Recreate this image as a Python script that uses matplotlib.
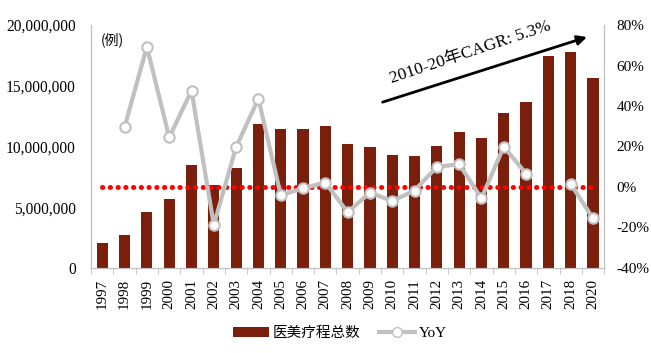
import matplotlib
matplotlib.use("Agg")
import matplotlib.pyplot as plt
import numpy as np
from matplotlib.lines import Line2D
from matplotlib.patches import Patch

years = ["1997", "1998", "1999", "2000", "2001", "2002", "2003", "2004", "2005", "2006",
         "2007", "2008", "2009", "2010", "2011", "2012", "2013", "2014", "2015", "2016",
         "2017", "2018", "2020"]
procedures = [2.08e6, 2.69e6, 4.58e6, 5.70e6, 8.48e6, 6.83e6, 8.20e6, 11.83e6, 11.40e6, 11.40e6,
              11.70e6, 10.23e6, 9.98e6, 9.30e6, 9.19e6, 10.07e6, 11.22e6, 10.67e6, 12.78e6, 13.64e6,
              17.45e6, 17.75e6, 15.60e6]
yoy = [np.nan, 29.6, 69.3, 24.5, 47.6, -18.8, 19.8, 43.6, -4.0, -0.7,
       2.2, -12.5, -2.8, -6.9, -1.8, 10.0, 11.2, -5.6, 19.9, 6.6,
       np.nan, 1.5, -15.5]
left_ticks = [0, 5e6, 10e6, 15e6, 20e6]
left_labels = ["0", "5,000,000", "10,000,000", "15,000,000", "20,000,000"]
right_ticks = [-40, -20, 0, 20, 40, 60, 80]
right_labels = ["-40%", "-20%", "0%", "20%", "40%", "60%", "80%"]

serif = ["Liberation Serif", "Noto Sans CJK SC"]
cjk = ["Noto Sans CJK SC", "DejaVu Sans"]

bar_color = "#7A1F0B"
line_color = "#C0C0C0"

fig = plt.figure(figsize=(6.51, 3.53), dpi=100)
ax = fig.add_axes([0.140, 0.241, 0.788, 0.688])
x = np.arange(len(years))
ax.bar(x, procedures, width=0.5, color=bar_color, zorder=2)
ax.set_xlim(-0.5, len(years) - 0.5)
ax.set_ylim(0, 20e6)
ax.set_yticks(left_ticks)
ax.set_yticklabels(left_labels, family=serif, fontsize=11.2)
ax.tick_params(axis="y", length=0, pad=11)
ax.set_xticks(x)
ax.set_xticklabels(years, rotation=90, family=serif, fontsize=10.8)
ax.set_xticks(np.arange(len(years) + 1) - 0.5, minor=True)
ax.tick_params(axis="x", which="major", length=0, pad=8)
ax.tick_params(axis="x", which="minor", length=4, color="#BFBFBF")
ax.spines["top"].set_visible(False)
for s in ["left", "right", "bottom"]:
    ax.spines[s].set_color("#BFBFBF")
ax.text(0.018, 0.97, "(例)", transform=ax.transAxes, family=cjk, fontsize=10,
        ha="left", va="top")

ax2 = ax.twinx()
ax2.set_ylim(-40, 80)
ax2.set_yticks(right_ticks)
ax2.set_yticklabels(right_labels, family=serif, fontsize=11)
ax2.tick_params(axis="y", length=0, pad=9)
ax2.spines["top"].set_visible(False)
for s in ["left", "right", "bottom"]:
    ax2.spines[s].set_color("#BFBFBF")
ax2.plot([x[0], x[-1]], [0, 0], color="#FF0000", lw=3.6, linestyle=(0, (0.05, 1.5)),
         dash_capstyle="round", zorder=3)
ax2.plot(x, yoy, color=line_color, lw=3, marker="o", markersize=7.5,
         markerfacecolor="white", markeredgecolor=line_color, markeredgewidth=1.5, zorder=4)

# CAGR annotation arrow
ax2.annotate("", xy=(21.85, 74.5), xytext=(12.45, 41.5),
             arrowprops=dict(arrowstyle="-|>", color="black", lw=2, mutation_scale=14))
ax2.text(16.5, 66.5, "2010-20年CAGR: 5.3%", rotation=18.5, family=serif, fontsize=12.5,
         ha="center", va="center", rotation_mode="anchor")

handles = [Patch(facecolor=bar_color, edgecolor="none"),
           Line2D([0], [0], color=line_color, lw=3, marker="o", markersize=7,
                  markerfacecolor="white", markeredgecolor=line_color)]
leg = fig.legend(handles, ["医美疗程总数", "YoY"], loc="center", bbox_to_anchor=(0.522, 0.057),
                 ncol=2, frameon=False, handlelength=2.6, columnspacing=1.3, handletextpad=0.3)
leg.get_texts()[0].set_family(cjk)
leg.get_texts()[0].set_fontsize(10.5)
leg.get_texts()[1].set_family(serif)
leg.get_texts()[1].set_fontsize(11)

fig.savefig("out.png", dpi=100)
